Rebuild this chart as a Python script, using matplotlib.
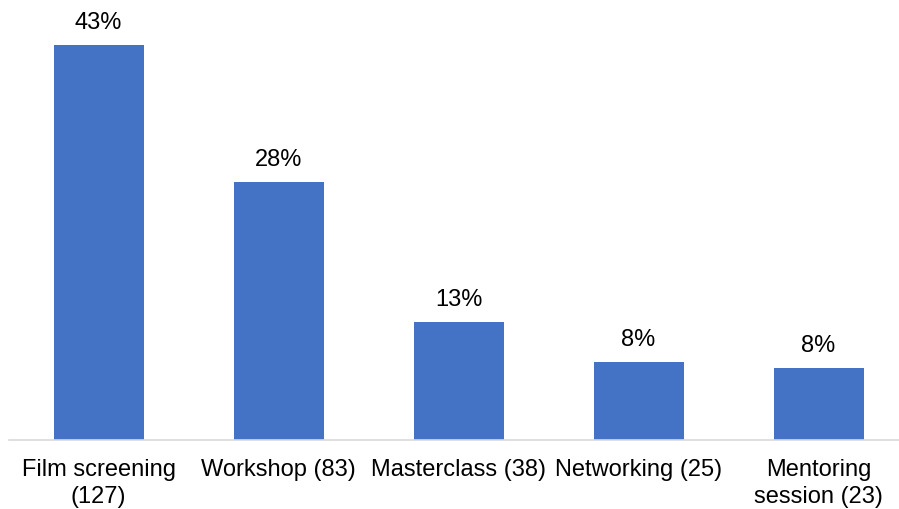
import matplotlib
matplotlib.use("Agg")
import matplotlib.pyplot as plt

categories = ["Film screening\n(127)", "Workshop (83)", "Masterclass (38)",
              "Networking (25)", "Mentoring\nsession (23)"]
shares = [42.9, 28.0, 12.8, 8.4, 7.8]

plt.rcParams["font.family"] = ["Liberation Sans", "DejaVu Sans"]

fig = plt.figure(figsize=(8.99, 5.09), dpi=100)
ax = fig.add_axes([8.5 / 899, 69.5 / 509, 900 / 899, 439.5 / 509])

x = range(len(categories))
bars = ax.bar(x, shares, width=0.5, color="#4472C4")
for b, v in zip(bars, shares):
    ax.annotate(f"{v:.0f}%", (b.get_x() + b.get_width() / 2, v),
                xytext=(0, 8), textcoords="offset points",
                ha="center", va="bottom", fontsize=17)

ax.set_xlim(-0.5, len(categories) - 0.5)
ax.set_ylim(0, 47.8)
ax.set_xticks(list(x))
ax.set_xticklabels(categories, fontsize=17, linespacing=1.27)
ax.tick_params(axis="x", length=0, pad=14)
ax.set_yticks([])
for side in ["top", "right", "left"]:
    ax.spines[side].set_visible(False)
ax.spines["bottom"].set_color("#d9d9d9")
ax.spines["bottom"].set_linewidth(1.2)

fig.savefig("out.png", dpi=100)
